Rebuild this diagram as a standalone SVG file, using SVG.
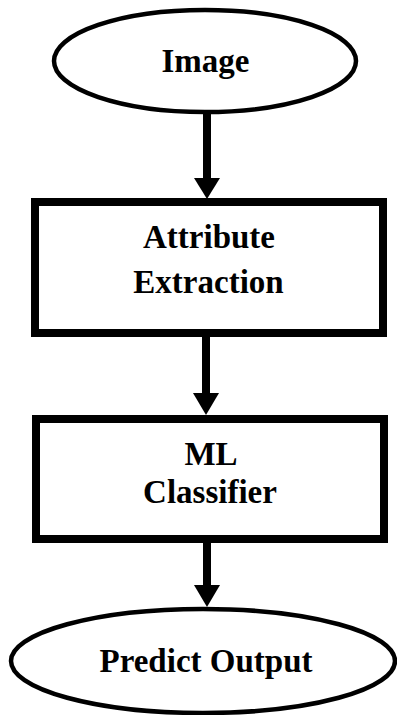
<svg xmlns="http://www.w3.org/2000/svg" width="397" height="715" viewBox="0 0 397 715">
<style>
.n{fill:#fff;stroke:#000}
.t{font-family:"Liberation Serif","Times New Roman",serif;font-weight:bold;font-size:33px;fill:#000;text-anchor:middle}
.c line{stroke:#000;stroke-width:8}
.c polygon{fill:#000}
</style>
<rect width="397" height="715" fill="#fff"/>
<g id="image">
<ellipse class="n" cx="205" cy="61" rx="151" ry="51" stroke-width="4.5"/>
<text class="t" x="205.5" y="72">Image</text>
</g>
<g id="attribute-extraction">
<rect class="n" x="35" y="202" width="348" height="131" stroke-width="8"/>
<text class="t" x="209" y="248">Attribute</text>
<text class="t" x="208.5" y="293">Extraction</text>
</g>
<g id="ml-classifier">
<rect class="n" x="36" y="419" width="348" height="120" stroke-width="8"/>
<text class="t" x="211" y="465">ML</text>
<text class="t" x="210" y="503">Classifier</text>
</g>
<g id="predict-output">
<ellipse class="n" cx="203" cy="661" rx="192" ry="52" stroke-width="4.5"/>
<text class="t" x="206" y="672">Predict Output</text>
</g>
<g class="c" id="connectors">
<line x1="207" y1="113" x2="207" y2="179"/>
<polygon points="194,178 220,178 207,199"/>
<line x1="206" y1="337" x2="206" y2="394"/>
<polygon points="193,393 219,393 206,415"/>
<line x1="207" y1="543" x2="207" y2="586"/>
<polygon points="194,585 220,585 207,607"/>
</g>
</svg>
